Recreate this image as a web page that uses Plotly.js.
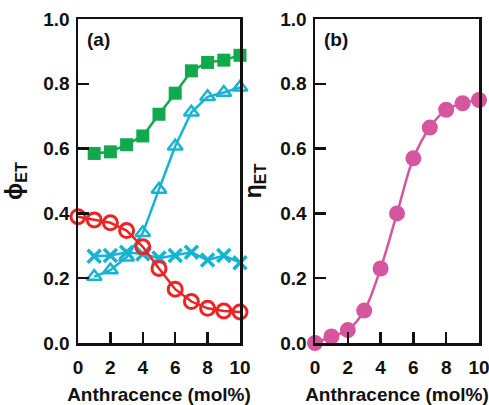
<!DOCTYPE html>
<html><head><meta charset="utf-8">
<script src="https://cdn.plot.ly/plotly-3.0.1.min.js"></script>
<style>html,body{margin:0;padding:0;background:#fff}#c{width:489px;height:405px}</style>
</head><body><div id="c"></div>
<script>
const xA = [0,1,2,3,4,5,6,7,8,9,10];
const x1 = [1,2,3,4,5,6,7,8,9,10];
const greenSquares = [0.585,0.59,0.612,0.639,0.706,0.771,0.84,0.866,0.873,0.888];
const cyanTriangles = [0.205,0.225,0.265,0.34,0.474,0.607,0.712,0.76,0.773,0.789];
const cyanCrosses = [0.268,0.27,0.28,0.275,0.262,0.27,0.28,0.256,0.27,0.248];
const redCircles = [0.39,0.38,0.371,0.347,0.297,0.23,0.166,0.128,0.107,0.099,0.096];
const magentaCircles = [0.0,0.02,0.04,0.1,0.23,0.4,0.57,0.665,0.72,0.74,0.75];
const xTicks = [0,2,4,6,8,10];
const yTicks = [0,0.2,0.4,0.6,0.8,1.0];
const yTickText = ['0.0','0.2','0.4','0.6','0.8','1.0'];

const GREEN='#12a84e', CYAN='#17b4d2', RED='#ee2324', MAG='#d5569f';
const tf = {family:'Liberation Sans, Arial, sans-serif', size:19, color:'#111', weight:'bold'};

const data = [
 {x:x1, y:greenSquares, mode:'lines+markers', xaxis:'x', yaxis:'y', cliponaxis:false,
  line:{color:GREEN,width:2.5}, marker:{symbol:'square',size:13,color:GREEN}},
 {x:x1, y:cyanTriangles, mode:'lines+markers', xaxis:'x', yaxis:'y', cliponaxis:false,
  line:{color:CYAN,width:2.5}, marker:{symbol:'triangle-up-open',size:13,color:CYAN,line:{width:2.5,color:CYAN}}},
 {x:x1, y:cyanCrosses, mode:'lines+markers', xaxis:'x', yaxis:'y', cliponaxis:false,
  line:{color:CYAN,width:2.5}, marker:{symbol:'x-thin-open',size:13,color:CYAN,line:{width:3.5,color:CYAN}}},
 {x:xA, y:redCircles, mode:'lines+markers', xaxis:'x', yaxis:'y', cliponaxis:false,
  line:{color:RED,width:2.5}, marker:{symbol:'circle-open',size:14,color:RED,line:{width:3,color:RED}}},
 {x:xA, y:magentaCircles, mode:'lines+markers', xaxis:'x2', yaxis:'y2', cliponaxis:false,
  line:{color:MAG,width:2.5,shape:'spline'}, marker:{symbol:'circle',size:16,color:MAG}}
];

const ax = {range:[0,10], showline:true, mirror:true, linewidth:2.5, linecolor:'#111',
  ticks:'inside', ticklen:11, tickwidth:2.5, tickcolor:'#111', tickvals:xTicks,
  showgrid:false, zeroline:false, tickfont:tf, ticklabelstandoff:6, ticklabeloverflow:'allow',
  title:{text:'Anthracence (mol%)', font:tf, standoff:14}};
const ay = {range:[0,1], showline:true, mirror:true, linewidth:2.5, linecolor:'#111',
  ticks:'inside', ticklen:11, tickwidth:2.5, tickcolor:'#111', tickvals:yTicks, ticktext:yTickText,
  showgrid:false, zeroline:false, tickfont:tf, ticklabelstandoff:2, ticklabeloverflow:'allow'};

const layout = {
  width:489, height:405, margin:{l:0,r:0,t:19,b:62}, showlegend:false,
  paper_bgcolor:'#fff', plot_bgcolor:'#fff', font:tf,
  xaxis:Object.assign({}, ax, {domain:[78/489,240/489], anchor:'y'}),
  yaxis:Object.assign({}, ay, {domain:[0,1], anchor:'x',
     title:{text:'ϕ<sub>ET</sub>', font:Object.assign({},tf,{size:23}), standoff:14}}),
  xaxis2:Object.assign({}, ax, {domain:[315/489,479/489], anchor:'y2'}),
  yaxis2:Object.assign({}, ay, {domain:[0,1], anchor:'x2',
     title:{text:'η<sub>ET</sub>', font:Object.assign({},tf,{size:23}), standoff:12}}),
  annotations:[
    {text:'(a)', xref:'x domain', yref:'y domain', x:0.045, y:0.975, xanchor:'left', yanchor:'top', showarrow:false, font:tf},
    {text:'(b)', xref:'x2 domain', yref:'y2 domain', x:0.045, y:0.975, xanchor:'left', yanchor:'top', showarrow:false, font:tf}
  ]
};
Plotly.newPlot('c', data, layout, {displayModeBar:false, staticPlot:true});
</script></body></html>
